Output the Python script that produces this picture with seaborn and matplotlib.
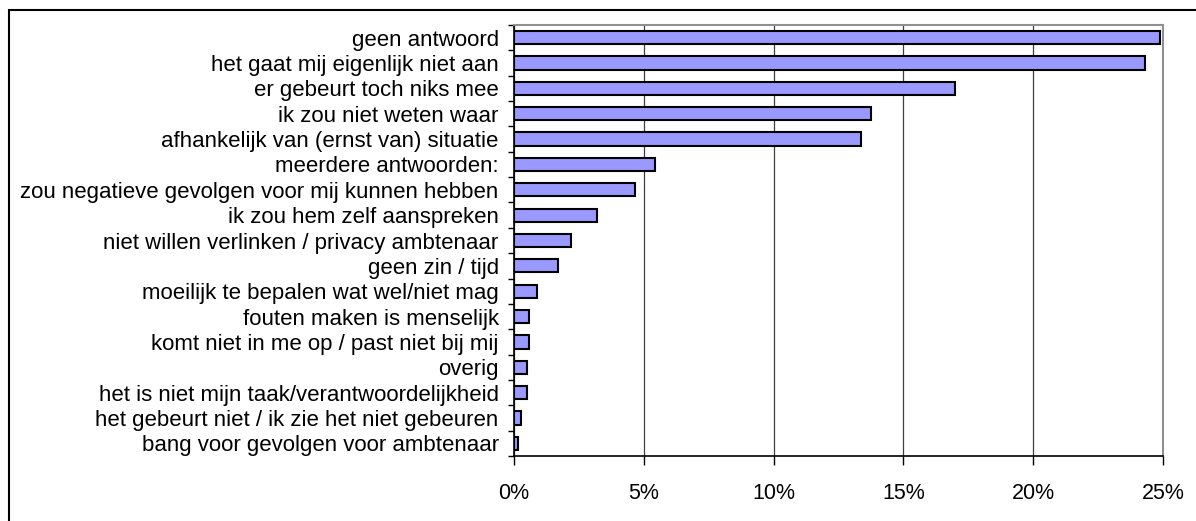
import matplotlib
matplotlib.use("Agg")
import matplotlib.pyplot as plt
import seaborn as sns
import pandas as pd
from matplotlib.patches import Rectangle
from matplotlib.ticker import FuncFormatter, FixedLocator

categories = [
    "geen antwoord",
    "het gaat mij eigenlijk niet aan",
    "er gebeurt toch niks mee",
    "ik zou niet weten waar",
    "afhankelijk van (ernst van) situatie",
    "meerdere antwoorden:",
    "zou negatieve gevolgen voor mij kunnen hebben",
    "ik zou hem zelf aanspreken",
    "niet willen verlinken / privacy ambtenaar",
    "geen zin / tijd",
    "moeilijk te bepalen wat wel/niet mag",
    "fouten maken is menselijk",
    "komt niet in me op / past niet bij mij",
    "overig",
    "het is niet mijn taak/verantwoordelijkheid",
    "het gebeurt niet / ik zie het niet gebeuren",
    "bang voor gevolgen voor ambtenaar",
]
values = [24.9, 24.3, 17.0, 13.75, 13.35, 5.45, 4.65, 3.2, 2.2, 1.7, 0.88, 0.57, 0.57, 0.52, 0.52, 0.27, 0.15]
x_ticks = [0, 5, 10, 15, 20, 25]

df = pd.DataFrame({"cat": categories, "val": values})

sns.set_style("white")
plt.rcParams["font.family"] = ["Liberation Sans", "DejaVu Sans"]
plt.rcParams["text.color"] = "black"
plt.rcParams["xtick.color"] = "black"
plt.rcParams["ytick.color"] = "black"
plt.rcParams["xtick.labelcolor"] = "black"
plt.rcParams["ytick.labelcolor"] = "black"

W, H = 1196, 521
fig = plt.figure(figsize=(W / 100, H / 100), dpi=100)
fig.patch.set_facecolor("white")
ax = fig.add_axes([514 / W, 1 - 456 / H, (1163 - 514) / W, (456 - 25) / H])

sns.barplot(data=df, x="val", y="cat", orient="h", color="#9999FF",
            edgecolor="black", linewidth=1.5, width=0.52, saturation=1, ax=ax)

ax.set_xlim(0, 25)
ax.set_ylim(len(categories) - 0.5, -0.5)
ax.set_xlabel("")
ax.set_ylabel("")

ax.xaxis.set_major_locator(FixedLocator(x_ticks))
ax.xaxis.set_major_formatter(FuncFormatter(lambda v, p: f"{int(round(v))}%"))
ax.grid(axis="x", color="#404040", linewidth=0.9)
ax.set_axisbelow(True)

ax.tick_params(axis="x", which="major", length=6.5, width=1, color="black",
               labelcolor="black", direction="out", labelsize=15.5, pad=13, bottom=True)
# y ticks between categories
ax.yaxis.set_minor_locator(FixedLocator([i - 0.5 for i in range(len(categories) + 1)]))
ax.tick_params(axis="y", which="major", length=0, labelsize=16, pad=11, left=True,
               labelcolor="black")
ax.tick_params(axis="y", which="minor", length=4.5, width=1, color="black", left=True)

for s in ["left", "bottom"]:
    ax.spines[s].set_color("black")
    ax.spines[s].set_linewidth(1.2)
for s in ["top", "right"]:
    ax.spines[s].set_color("#909090")
    ax.spines[s].set_linewidth(1.5)

# outer chart border
fig.patches.append(Rectangle((9 / W, -0.1), 1.2, 1 - 10 / H + 0.1,
                             transform=fig.transFigure, fill=False,
                             edgecolor="black", linewidth=1.5))

fig.savefig("out.png", dpi=100, facecolor="white")
